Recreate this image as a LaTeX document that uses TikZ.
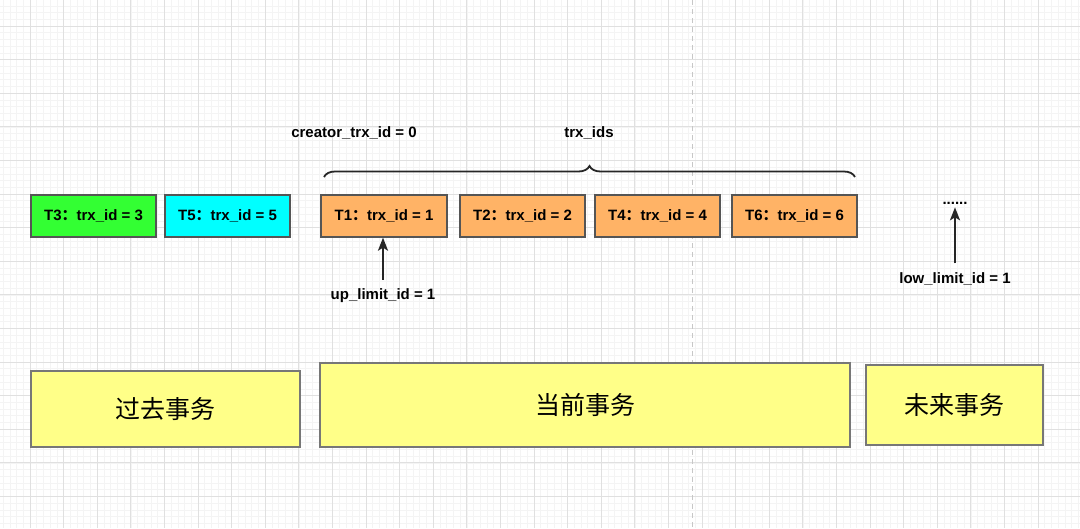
\documentclass[tikz,border=0pt]{standalone}
\usepackage{fontspec}
\setmainfont{Liberation Sans}
\newfontfamily\cjk{Noto Sans CJK SC}
\usetikzlibrary{decorations.pathreplacing, arrows.meta}

\definecolor{gridminor}{HTML}{F4F4F4}
\definecolor{gridmajor}{HTML}{E0E0E0}
\definecolor{trxgreen}{HTML}{33FF33}
\definecolor{trxcyan}{HTML}{00FFFF}
\definecolor{trxorange}{HTML}{FFB366}
\definecolor{rangeyellow}{HTML}{FFFF88}
\definecolor{boxedge}{HTML}{555555}

\tikzset{
  trxbox/.style={draw=boxedge, line width=1.3pt, minimum height=42pt,
    inner sep=0pt, font=\fontsize{15}{17}\selectfont\bfseries},
  rangebox/.style={draw=boxedge!80, line width=1.3pt, fill=rangeyellow,
    inner sep=0pt, font=\cjk\fontsize{25}{28}\selectfont},
  idlabel/.style={font=\fontsize{15}{17}\selectfont\bfseries, inner sep=1pt},
  limitarrow/.style={-{Stealth[length=13pt, width=10pt, inset=3pt]}, line width=2pt, black!85}
}

\begin{document}
\begin{tikzpicture}[x=1pt, y=-1pt]
    \useasboundingbox (0,0) rectangle (1080,528);
    \fill[white] (0,0) rectangle (1080,528);

    % Background grid
    \foreach \i in {0,...,161}
      \draw[gridminor, line width=0.6pt] ({-3.6+\i*6.72},0) -- ({-3.6+\i*6.72},528);
    \foreach \i in {0,...,80}
      \draw[gridminor, line width=0.6pt] (0,{-7.6+\i*6.72}) -- (1080,{-7.6+\i*6.72});
    \foreach \i in {0,...,31}
      \draw[gridmajor, line width=1pt] ({-3.6+\i*33.6},0) -- ({-3.6+\i*33.6},528);
    \foreach \i in {0,...,16}
      \draw[gridmajor, line width=1pt] (0,{-7.6+\i*33.6}) -- (1080,{-7.6+\i*33.6});
    \draw[black!22, dash pattern=on 5pt off 4pt, line width=1pt] (692,0) -- (692,528);

    % Transactions
    \node[trxbox, fill=trxgreen, minimum width=125pt] (t3) at (93.5,216) {T3{\cjk：}trx\_id = 3};
    \node[trxbox, fill=trxcyan, minimum width=125pt] (t5) at (227.5,216) {T5{\cjk：}trx\_id = 5};
    \node[trxbox, fill=trxorange, minimum width=126pt] (t1) at (384,216) {T1{\cjk：}trx\_id = 1};
    \node[trxbox, fill=trxorange, minimum width=125pt] (t2) at (522.5,216) {T2{\cjk：}trx\_id = 2};
    \node[trxbox, fill=trxorange, minimum width=125pt] (t4) at (657.5,216) {T4{\cjk：}trx\_id = 4};
    \node[trxbox, fill=trxorange, minimum width=125pt] (t6) at (794.5,216) {T6{\cjk：}trx\_id = 6};
    \node[idlabel] (more) at (955,203) {......};

    % Read view fields
    \node[idlabel] (creator) at (354,133) {creator\_trx\_id = 0};
    \node[idlabel] (trxids) at (589,133) {trx\_ids};
    \coordinate (braceleft) at (324,177);
    \coordinate (braceright) at (855,177);
    \draw[decorate, decoration={brace, amplitude=11pt}, line width=1.8pt, black!85]
      (braceleft) -- (braceright);

    \node[idlabel] (uplimit) at (383,296) {up\_limit\_id = 1};
    \node[idlabel] (lowlimit) at (955,279) {low\_limit\_id = 1};
    \draw[limitarrow, shorten <=8pt] (uplimit.north) -- (uplimit.north |- t1.south);
    \draw[limitarrow, shorten <=8pt, shorten >=2pt] (lowlimit.north) -- (more.south);

    % Ranges
    \node[rangebox, minimum width=269pt, minimum height=76pt] (past) at (165.5,409) {过去事务};
    \node[rangebox, minimum width=530pt, minimum height=84pt] (current) at (585,405) {当前事务};
    \node[rangebox, minimum width=177pt, minimum height=80pt] (future) at (954.5,405) {未来事务};
\end{tikzpicture}
\end{document}
